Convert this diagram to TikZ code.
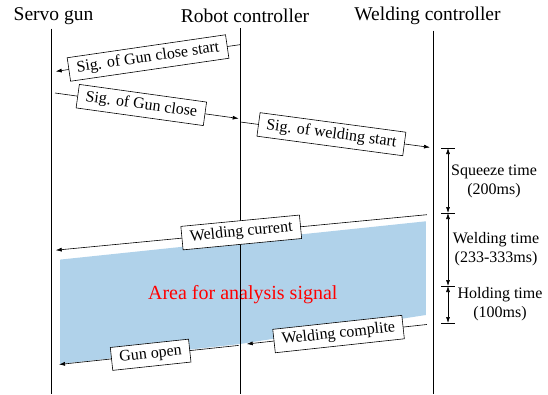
\documentclass[tikz,border=0pt]{standalone}
\usepackage{fontspec}
\setmainfont{Liberation Serif}
\usetikzlibrary{arrows.meta}
\definecolor{areablue}{RGB}{176,210,234}
\begin{document}
\begin{tikzpicture}[x=1pt,y=-1pt]
\tikzset{hdr/.style={font=\fontsize{19.5}{22}\selectfont, inner sep=0pt}}
\tikzset{lifeline/.style={line width=0.6pt}}
\tikzset{msg/.style={line width=0.6pt, -{Latex[length=6pt,width=4pt]}}}
\tikzset{sigbox/.style={draw, fill=white, line width=0.6pt, inner xsep=8pt, inner ysep=4.5pt, font=\fontsize{16}{18}\selectfont, sloped, allow upside down=false}}
\tikzset{dimarr/.style={line width=0.6pt, {Latex[length=6pt,width=4pt]}-{Latex[length=6pt,width=4pt]}}}
\tikzset{dimlbl/.style={font=\fontsize{16}{19}\selectfont, align=center, inner sep=0pt}}
\useasboundingbox (0,0) rectangle (548,394);
% area for analysis
\fill[areablue] (60,259.6) -- (425.8,221.3) -- (425.8,315) -- (240,344) -- (60,364) -- cycle;
\node[text=red, font=\fontsize{20}{22}\selectfont] (Area) at (242.8,294.8) {Area for analysis signal};
% headers
\node[hdr] (Hgun) at (53.5,15.7) {Servo gun};
\node[hdr] (Hrob) at (245,15.7) {Robot controller};
\node[hdr] (Hwel) at (427.5,15.7) {Welding controller};
% lifelines
\coordinate (G0) at (51,28.6);
\coordinate (G1) at (51,394);
\coordinate (R0) at (240.4,27.9);
\coordinate (R1) at (240.4,394);
\coordinate (W0) at (433,30.7);
\coordinate (W1) at (433,394);
\draw[lifeline] (G0) -- (G1);
\draw[lifeline] (R0) -- (R1);
\draw[lifeline] (W0) -- (W1);
% signals
\coordinate (M1a) at (240.4,44.6);
\coordinate (M1b) at (55.7,71.4);
\coordinate (M2a) at (55,93);
\coordinate (M2b) at (238.7,118.5);
\coordinate (M3a) at (240.4,122);
\coordinate (M3b) at (430,147.4);
\coordinate (M4a) at (426.8,214.7);
\coordinate (M4b) at (55.7,250.2);
\coordinate (M5a) at (426.8,324.5);
\coordinate (M5b) at (246.7,344);
\coordinate (M6a) at (238.7,345.4);
\coordinate (M6b) at (59,364.5);
\draw[msg] (M1a) -- node[sigbox] (S1) {Sig. of Gun close start} (M1b);
\draw[msg] (M2a) -- node[sigbox, pos=0.47] (S2) {Sig. of Gun close} (M2b);
\draw[msg] (M3a) -- node[sigbox, pos=0.48] (S3) {Sig. of welding start} (M3b);
\draw[msg] (M4a) -- node[sigbox] (S4) {Welding current} (M4b);
\draw[msg] (M5a) -- node[sigbox, pos=0.49] (S5) {Welding complite} (M5b);
\draw[msg] (M6a) -- node[sigbox, pos=0.49] (S6) {Gun open} (M6b);
% times
\coordinate (T1) at (448,148);
\coordinate (T2) at (448,213);
\coordinate (T3) at (448,286);
\coordinate (T4) at (448,323);
\foreach \t in {T1,T2,T3,T4}
  \draw[line width=0.6pt] ([xshift=-7pt]\t) -- ([xshift=7pt]\t);
\draw[dimarr] (T1) -- (T2);
\draw[dimarr] (T2) -- (T3);
\draw[dimarr] (T3) -- (T4);
\node[dimlbl] (Lsq) at (494,181.5) {Squeeze time\\(200ms)};
\node[dimlbl] (Lwe) at (496,249) {Welding time\\(233-333ms)};
\node[dimlbl] (Lho) at (500,304) {Holding time\\(100ms)};
\end{tikzpicture}
\end{document}
